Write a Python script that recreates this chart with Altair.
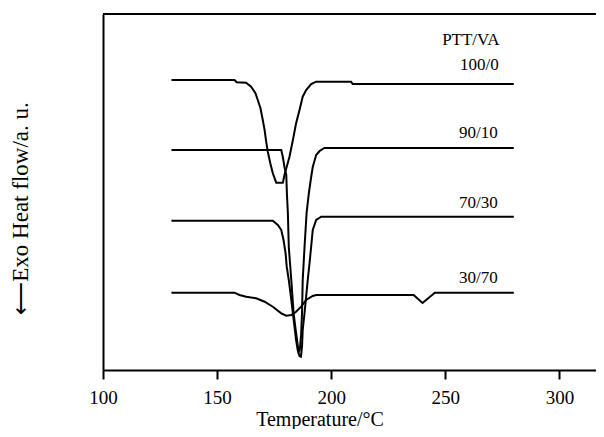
import altair as alt
import pandas as pd

# ---- data (Temperature in °C, heat flow in arbitrary units) ----
s100_T = [130, 157.6, 158.6, 162.7, 164.9, 166.8, 167.8, 169.0, 170.0, 170.8, 171.5, 172.2, 173.3, 174.4,
          175.9, 178.8, 179.5, 180.5, 181.7, 183.2, 184.6, 186.1, 187.5, 189.0, 191.2, 193.4, 208.7, 209.4, 280]
s100_H = [290, 290, 287.7, 287.3, 283.3, 276.7, 270, 261.7, 250, 240, 228.3, 218.3, 206.7, 196.7,
          187.3, 187.3, 195, 203.3, 213.3, 230, 246.7, 260, 273.3, 280, 286, 288.3, 288.3, 286, 286]

s90_T = [130, 178.1, 178.8, 179.5, 180.3, 180.6, 181.0, 181.4, 182.5, 183.5, 184.6, 185.3, 185.7, 186.2,
         186.8, 187.2, 187.5, 188.3, 189.2, 190.2, 191.2, 191.9, 193.4, 194.9, 197.0, 280]
s90_H = [220, 220, 213, 203, 195, 175, 157, 123, 90, 57, 37, 25, 18, 20,
         35, 57, 90, 123, 157, 177, 193, 203, 215, 219, 222, 222]

s70_T = [130, 174.4, 176.6, 178.1, 179.1, 180.0, 180.5, 181.4, 182.5, 183.2, 183.9, 184.6, 185.3, 186.1,
         186.7, 187.2, 187.5, 188.3, 189.0, 189.7, 190.5, 191.2, 191.9, 193.4, 195.6, 280]
s70_H = [149.3, 149.3, 145, 140, 130, 116.7, 103.3, 90, 70, 56.7, 43.3, 30, 20, 14,
         13.3, 23.3, 40, 57, 73.3, 90, 107, 123.3, 140, 150, 153.3, 153.3]

s30_T = [130, 157.6, 159.8, 162.7, 167.1, 170.8, 174.4, 178.1, 180.3, 182.5, 184.6, 186.8, 189.0, 191.9,
         193.4, 236.1, 240.0, 245.4, 280]
s30_H = [77.3, 77.3, 75, 73.3, 71.7, 68.3, 63.3, 56.7, 54.3, 55, 58.3, 63.3, 70, 74,
         75, 75, 67, 77.3, 77.3]

series_names = ["100/0", "90/10", "70/30", "30/70"]

label_text = ["PTT/VA", "100/0", "90/10", "70/30", "30/70"]
label_T = [273.7, 273.4, 273.0, 273.0, 273.0]
label_H = [330, 305, 237, 167, 92]

x_ticks = [100, 150, 200, 250, 300]

# ---- tables ----
rows = []
for name, T, H in zip(series_names, [s100_T, s90_T, s70_T, s30_T], [s100_H, s90_H, s70_H, s30_H]):
    for i, (t, h) in enumerate(zip(T, H)):
        rows.append({"series": name, "T": t, "H": h, "i": i})
curves = pd.DataFrame(rows)
labels = pd.DataFrame({"text": label_text, "T": label_T, "H": label_H})

W, Hh = 493, 356
xscale = alt.Scale(domain=[100, 316], nice=False, zero=False)
yscale = alt.Scale(domain=[0, 356], nice=False, zero=False)

xaxis = alt.Axis(values=x_ticks, title="Temperature/°C", grid=False, labelFlush=False,
                 domainColor="black", domainWidth=2, tickColor="black", tickWidth=2, tickSize=9,
                 labelFont="Liberation Serif", labelFontSize=19, labelColor="black",
                 labelBaseline="alphabetic", labelPadding=24,
                 titleFont="Liberation Serif", titleFontSize=20, titleFontWeight="normal",
                 titleColor="black", titleBaseline="alphabetic", titleY=55, titleX=216.5)
yaxis = alt.Axis(title="⟵Exo  Heat flow/a. u.", grid=False, ticks=False, labels=False,
                 domainColor="black", domainWidth=2,
                 titleFont="Liberation Serif", titleFontSize=23, titleFontWeight="normal",
                 titleColor="black", titleAngle=270, titleAlign="center",
                 titleBaseline="alphabetic", titleX=-76, titleY=194)

lines = alt.Chart(curves).mark_line(color="black", strokeWidth=2).encode(
    x=alt.X("T:Q", scale=xscale, axis=xaxis),
    y=alt.Y("H:Q", scale=yscale, axis=yaxis),
    detail="series:N",
    order="i:Q",
)

texts = alt.Chart(labels).mark_text(align="right", baseline="middle", font="Liberation Serif",
                                    fontSize=17, color="black").encode(
    x=alt.X("T:Q", scale=xscale),
    y=alt.Y("H:Q", scale=yscale),
    text="text:N",
)

top = alt.Chart(pd.DataFrame({"a": [0]})).mark_rule(color="black", strokeWidth=2).encode(
    x=alt.value(0), x2=alt.value(W), y=alt.value(0)
)

chart = alt.layer(lines, texts, top).properties(
    width=W, height=Hh,
    padding={"left": 95, "top": 6, "right": 0, "bottom": 59},
    autosize=alt.AutoSizeParams(type="none"),
).configure_view(stroke=None).configure(background="white")

chart.save("out.html", embed_options={"renderer": "svg", "actions": False})
